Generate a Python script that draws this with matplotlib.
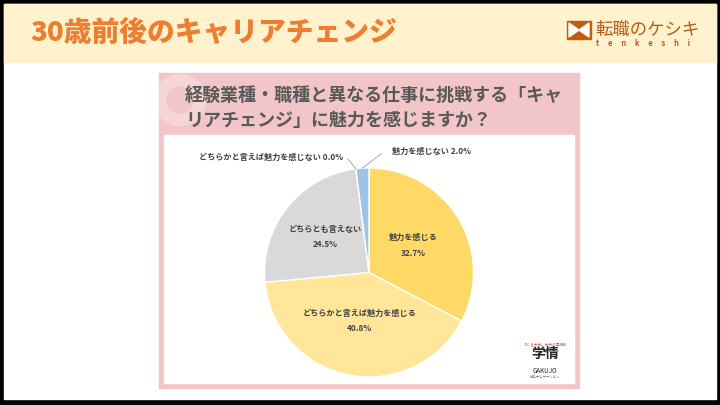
import numpy as np
import matplotlib
matplotlib.use('Agg')
import matplotlib.pyplot as plt
from matplotlib.patches import Rectangle, Polygon, Circle

plt.rcParams['font.family'] = ['Noto Sans CJK JP', 'DejaVu Sans']

# data
categories = ['魅力を感じる', 'どちらかと言えば魅力を感じる', 'どちらとも言えない',
              'どちらかと言えば魅力を感じない', '魅力を感じない']
values = [32.7, 40.8, 24.5, 0.0, 2.0]
colors = ['#FFD966', '#FFE699', '#D9D9D9', '#BDD7EE', '#9DC3E6']

page_title = '30歳前後のキャリアチェンジ'
question = '経験業種・職種と異なる仕事に挑戦する「キャ\nリアチェンジ」に魅力を感じますか？'

W, H = 720, 405
fig = plt.figure(figsize=(7.2, 4.05), dpi=100)
fig.patch.set_facecolor('black')

# background drawn in pixel coordinates
bg = fig.add_axes([0, 0, 1, 1])
bg.set_xlim(0, W)
bg.set_ylim(H, 0)
bg.axis('off')

bg.add_patch(Rectangle((4, 4), 712, 395, color='white'))
bg.add_patch(Rectangle((4, 4), 712, 58, color='#FFF2CC'))
bg.text(30, 33, page_title, color='#ED7D31', fontsize=20, fontweight='black',
        va='center', ha='left')

# brand logo
bg.add_patch(Rectangle((567, 21), 24, 18, color='#C55A11'))
bg.add_patch(Polygon([(569, 23), (579, 30), (569, 37)], color='white'))
bg.add_patch(Polygon([(589, 23), (579, 30), (589, 37)], color='white'))
bg.text(595, 30, '転職のケシキ', color='#B85A1A', fontsize=12.5, va='center', ha='left')
bg.text(643, 43, 't     e     n     k     e     s     h     i', color='#B85A1A', fontsize=5.5,
        va='center', ha='center', fontweight='bold')

# pink panel
panel = Rectangle((159, 73), 420, 315, color='#F2C6C9')
bg.add_patch(panel)
ring = Circle((180, 100), 20, fill=False, edgecolor='#F6D5D7', linewidth=9)
bg.add_patch(ring)
ring.set_clip_path(panel)
bg.add_patch(Rectangle((164, 135), 410, 248, color='white'))
bg.text(185, 108, question, color='#595959', fontsize=13, fontweight='bold',
        va='center', ha='left', linespacing=1.35)

# gakujo logo
bg.text(545, 344, 'つくる未来。未来の選択肢', color='#D9534F', fontsize=2.6, ha='center', va='center')
bg.text(545, 354, '学情', color='#222222', fontsize=10, fontweight='bold', ha='center', va='center')
grad = np.linspace(0, 1, 50).reshape(1, -1)
bg.imshow(grad, extent=(532, 558, 365, 362.5), cmap='autumn_r', aspect='auto')
bg.text(545, 371, 'GAKUJO', color='#222222', fontsize=4.5, ha='center', va='center')
bg.text(545, 377, '就活ナビゲーション', color='#666666', fontsize=2.4, ha='center', va='center')
bg.set_xlim(0, W)
bg.set_ylim(H, 0)

# pie
cx, cy, r = 369, 272.5, 104.5
ax = fig.add_axes([(cx - r) / W, (H - cy - r) / H, 2 * r / W, 2 * r / H])
wedges, _ = ax.pie(values, colors=colors, startangle=90, counterclock=False,
                   wedgeprops=dict(edgecolor='white', linewidth=1.0))
ax.set_xlim(-1, 1)
ax.set_ylim(-1, 1)
ax.set_aspect('equal')
ax.axis('off')

txt_color = '#404040'
inner_dist = [0.5, 0.47, 0.54]
for i in range(3):
    w = wedges[i]
    mid = np.deg2rad((w.theta1 + w.theta2) / 2)
    d = inner_dist[i]
    ax.text(d * np.cos(mid), d * np.sin(mid), f'{categories[i]}\n{values[i]:.1f}%',
            ha='center', va='center', fontsize=5.9, color=txt_color, linespacing=1.9,
            fontweight='semibold')

# small slices with leader lines
for i, (end, txt_pos, ha) in zip([3, 4], [((-0.2, 1.085), (-0.25, 1.1), 'right'),
                                          ((0.12, 1.14), (0.22, 1.155), 'left')]):
    w = wedges[i]
    mid = np.deg2rad((w.theta1 + w.theta2) / 2)
    sx, sy = np.cos(mid), np.sin(mid)
    ax.plot([sx, end[0]], [sy, end[1]], color='#A6A6A6', linewidth=0.7, clip_on=False)
    ax.text(txt_pos[0], txt_pos[1], f'{categories[i]} {values[i]:.1f}%', ha=ha, va='center',
            fontsize=5.9, color=txt_color, fontweight='semibold')

fig.savefig('out.png', dpi=100, facecolor=fig.get_facecolor())
